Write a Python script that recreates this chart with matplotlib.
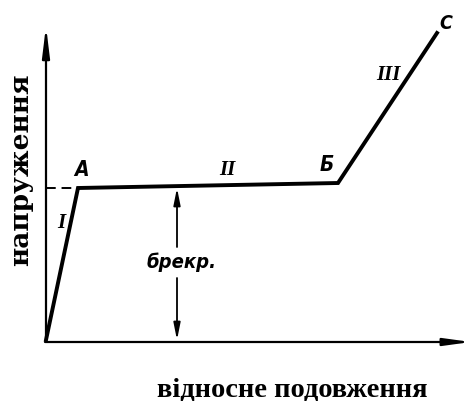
import matplotlib.pyplot as plt

# Діаграма розтягу (умовні одиниці)
deformacia = [0, 32, 292, 391]      # O, A, Б, C
napruga = [0, 152, 157, 307]
tochky = ['', 'A', 'Б', 'C']
diljanky = ['I', 'II', 'III']
sigma_rekr = 152
x_rekr = 131

fig = plt.figure(figsize=(4.71, 4.01), dpi=100)
ax = fig.add_axes([0, 0, 1, 1])
ax.set_xlim(-46, 425)
ax.set_ylim(-61, 340)
ax.axis('off')

pidpys = dict(style='italic', weight='bold', family='DejaVu Sans', stretch='condensed')

# осі
ax.annotate('', xy=(0, 314), xytext=(0, -1),
            arrowprops=dict(arrowstyle='-|>,head_length=1.8,head_width=0.22',
                            lw=1.6, color='black', shrinkA=0, shrinkB=0))
ax.annotate('', xy=(425, -2), xytext=(-1, -2),
            arrowprops=dict(arrowstyle='-|>,head_length=1.6,head_width=0.22',
                            lw=1.6, color='black', shrinkA=0, shrinkB=0))

# крива
ax.plot(deformacia, napruga, color='black', lw=2.8, solid_joinstyle='miter')
ax.plot([0, deformacia[1]], [napruga[1], napruga[1]], color='black', lw=1.4,
        dashes=(5, 3))

# точки
ax.text(deformacia[1] + 3, napruga[1] + 8, tochky[1], fontsize=15,
        ha='center', va='bottom', **pidpys)
ax.text(deformacia[2] - 11, napruga[2] + 8, tochky[2], fontsize=15,
        ha='center', va='bottom', **pidpys)
ax.text(deformacia[3] + 9, napruga[3], tochky[3], fontsize=14,
        ha='center', va='bottom', **pidpys)

# ділянки
ax.text(15, 117, diljanky[0], fontsize=15, style='italic', weight='bold',
        family='Liberation Serif', ha='center', va='center')
ax.text(181, 170, diljanky[1], fontsize=15, style='italic', weight='bold',
        family='Liberation Serif', ha='center', va='center')
ax.text(342, 265, diljanky[2], fontsize=15, style='italic', weight='bold',
        family='Liberation Serif', ha='center', va='center')

# напруга рекристалізації
ax.annotate('', xy=(x_rekr, sigma_rekr), xytext=(x_rekr, 93),
            arrowprops=dict(arrowstyle='-|>,head_length=1.0,head_width=0.2',
                            lw=1.3, color='black', shrinkA=0, shrinkB=0))
ax.annotate('', xy=(x_rekr, 0), xytext=(x_rekr, 62),
            arrowprops=dict(arrowstyle='-|>,head_length=1.0,head_width=0.2',
                            lw=1.3, color='black', shrinkA=0, shrinkB=0))
ax.text(x_rekr + 5, 78, 'брекр.', fontsize=14.5, ha='center', va='center',
        **pidpys)

# підписи осей
ax.text(246, -50, 'відносне подовження', fontsize=20.5, weight='bold',
        family='Liberation Serif', ha='center', va='center')
ax.text(-25, 170, 'напруження', fontsize=19, weight='bold', rotation=90,
        family='DejaVu Serif', ha='center', va='center')

fig.savefig('out.png', dpi=100)
